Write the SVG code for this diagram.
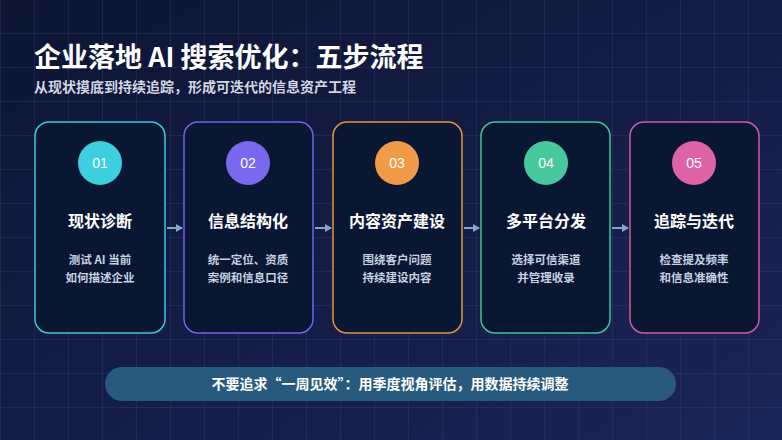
<svg xmlns="http://www.w3.org/2000/svg" width="782" height="440" viewBox="0 0 782 440">
<defs>
<linearGradient id="bg" x1="0" y1="0" x2="1" y2="1"><stop offset="0" stop-color="#0d1533"/><stop offset="1" stop-color="#1b2457"/></linearGradient>
<pattern id="grid" width="34" height="34" patternUnits="userSpaceOnUse" x="1" y="0"><path d="M34 0V34H0" fill="none" stroke="#3a4a80" stroke-opacity="0.55" stroke-width="1"/></pattern>
<marker id="ar" markerWidth="8" markerHeight="8" refX="6" refY="4" orient="auto" markerUnits="userSpaceOnUse"><path d="M0 0L7 4L0 8Z" fill="#7fa7cf"/></marker>
<style>
.card{fill:#0a1733;stroke-width:1.5}
.num{font:14px "Liberation Sans","Noto Sans CJK SC",sans-serif;fill:#fff;text-anchor:middle}
.t{font:bold 16px "Noto Sans CJK SC",sans-serif;fill:#fff;text-anchor:middle}
.d{font:bold 11.5px "Noto Sans CJK SC",sans-serif;fill:#c5d0e0;text-anchor:middle}
.c{stroke:#7fa7cf;stroke-width:2;fill:none}
</style>
</defs>
<rect width="782" height="440" fill="url(#bg)"/>
<rect width="782" height="440" fill="url(#grid)"/>
<text x="34" y="67" font-family="Noto Sans CJK SC,sans-serif" font-weight="bold" font-size="27" fill="#fff">企业落地 AI 搜索优化：五步流程</text>
<text x="34" y="92" font-family="Noto Sans CJK SC,sans-serif" font-weight="bold" font-size="14" fill="#d0d6e2">从现状摸底到持续追踪，形成可迭代的信息资产工程</text>
<g id="connectors">
<line class="c" x1="167" y1="228" x2="182" y2="228" marker-end="url(#ar)"/>
<line class="c" x1="315" y1="228" x2="331" y2="228" marker-end="url(#ar)"/>
<line class="c" x1="464" y1="228" x2="479" y2="228" marker-end="url(#ar)"/>
<line class="c" x1="612" y1="228" x2="628" y2="228" marker-end="url(#ar)"/>
</g>
<g id="n1"><rect class="card" x="35" y="122" width="130" height="211" rx="14" stroke="#38c9dc"/><circle cx="100" cy="163" r="22" fill="#3ccfe0"/><text class="num" x="100" y="168">01</text><text class="t" x="100" y="227">现状诊断</text><text class="d" x="100" y="264">测试 AI 当前</text><text class="d" x="100" y="282">如何描述企业</text></g>
<g id="n2"><rect class="card" x="184" y="122" width="129" height="211" rx="14" stroke="#7560e8"/><circle cx="248" cy="163" r="22" fill="#7a68ee"/><text class="num" x="248" y="168">02</text><text class="t" x="248" y="227">信息结构化</text><text class="d" x="248" y="264">统一定位、资质</text><text class="d" x="248" y="282">案例和信息口径</text></g>
<g id="n3"><rect class="card" x="333" y="122" width="129" height="211" rx="14" stroke="#e8913a"/><circle cx="397" cy="163" r="22" fill="#f09b48"/><text class="num" x="397" y="168">03</text><text class="t" x="397" y="227">内容资产建设</text><text class="d" x="397" y="264">围绕客户问题</text><text class="d" x="397" y="282">持续建设内容</text></g>
<g id="n4"><rect class="card" x="481" y="122" width="129" height="211" rx="14" stroke="#3fc49a"/><circle cx="546" cy="163" r="22" fill="#48c89d"/><text class="num" x="546" y="168">04</text><text class="t" x="546" y="227">多平台分发</text><text class="d" x="546" y="264">选择可信渠道</text><text class="d" x="546" y="282">并管理收录</text></g>
<g id="n5"><rect class="card" x="630" y="122" width="129" height="211" rx="14" stroke="#d25a9e"/><circle cx="694" cy="163" r="22" fill="#de62a6"/><text class="num" x="694" y="168">05</text><text class="t" x="694" y="227">追踪与迭代</text><text class="d" x="694" y="264">检查提及频率</text><text class="d" x="694" y="282">和信息准确性</text></g>
<g id="note"><rect x="105" y="367" width="571" height="34" rx="17" fill="#285a7e"/><text x="390" y="389" text-anchor="middle" font-family="Noto Sans CJK SC,sans-serif" font-weight="bold" font-size="14" fill="#fff">不要追求“一周见效”：用季度视角评估，用数据持续调整</text></g>
</svg>
